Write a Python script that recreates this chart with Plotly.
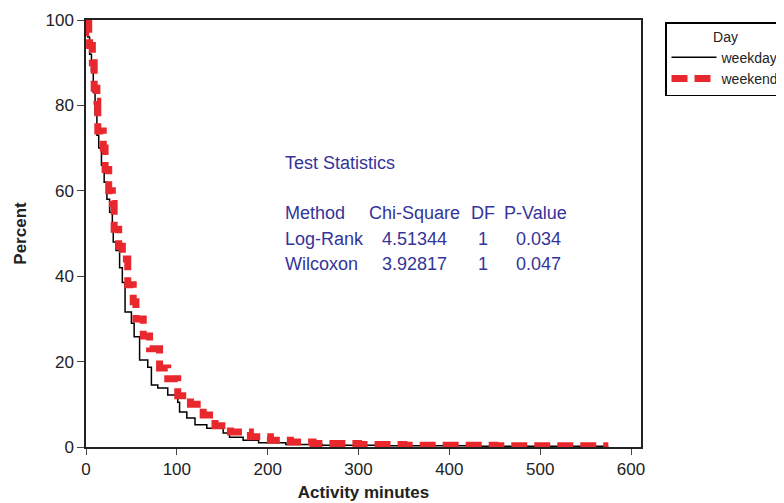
import plotly.graph_objects as go

# Kaplan-Meier style step data
weekday_time = [0, 2, 4, 6, 8, 10, 12, 14, 17, 20, 23, 26, 29, 30, 33, 37, 40, 43, 50, 53, 59, 68, 72, 79,
                90, 101, 103, 111, 120, 133, 151, 158, 173, 190, 220, 260, 330, 420, 575]
weekday_pct = [100, 96, 92, 88, 83, 78, 73, 70, 66, 62, 58, 55, 51, 48, 46, 42, 38.5, 31.6, 29, 25.8, 20.4,
               18.7, 14.5, 13.8, 12.2, 10.5, 8.2, 6.8, 5.2, 4.4, 3.3, 2.3, 1.6, 1.0, 0.6, 0.4, 0.3, 0.2, 0.2]

weekend_time = [0, 3, 4, 7, 9, 12, 13, 19, 21, 25, 29, 31, 36, 40, 46, 52, 55, 63, 70, 81, 90, 101, 115,
                129, 142, 159, 181, 203, 225, 250, 300, 350, 450, 575]
weekend_pct = [100, 97, 94, 90, 84, 81, 74, 70, 65, 60, 57, 51, 47, 44, 38, 34, 30, 26, 23, 18.5, 16, 12,
               10, 7.5, 5, 3.5, 2.4, 1.6, 1.2, 0.8, 0.6, 0.4, 0.3, 0.3]

x_ticks = [0, 100, 200, 300, 400, 500, 600]
y_ticks = [0, 20, 40, 60, 80, 100]

stats_header = ["Method", "Chi-Square", "DF", "P-Value"]
stats_rows = [["Log-Rank", "4.51344", "1", "0.034"],
              ["Wilcoxon", "3.92817", "1", "0.047"]]

FONT = "Liberation Sans, Arial, sans-serif"
NAVY = "#34349a"
RED = "#e8282c"

fig = go.Figure()
fig.add_trace(go.Scatter(x=weekday_time, y=weekday_pct, mode="lines", name="weekday",
                         line=dict(color="black", width=1.5, shape="hv")))
fig.add_trace(go.Scatter(x=weekend_time, y=weekend_pct, mode="lines", name="weekend",
                         line=dict(color=RED, width=7, shape="hv", dash="16px,7px")))

# plot area in page pixels: left 86, right 641, top 20, bottom 447 (page has an 8px offset)
OFF = 8
L, R, T, B = 86, 641, 20, 447
def px(x):
    return (x - L) / (R - L)
def py(y):
    return (B - y) / (B - T)

ann = []
ann.append(dict(x=px(283), y=py(163), text="Test Statistics"))
col_x = [283, 367, 469, 502]
row_y = [213, 239, 264]
for i, h in enumerate(stats_header):
    ann.append(dict(x=px(col_x[i]), y=py(row_y[0]), text=h))
val_x = [283, 380, 476, 514]
for r, row in enumerate(stats_rows):
    for i, v in enumerate(row):
        ann.append(dict(x=px(val_x[i]), y=py(row_y[r + 1]), text=v))
for a in ann:
    a.update(xref="paper", yref="paper", xanchor="left", yanchor="middle", showarrow=False,
             font=dict(family=FONT, size=18, color=NAVY))

fig.update_layout(
    width=784, height=503,
    margin=dict(l=L - OFF, r=784 - R + OFF, t=T - OFF, b=503 - B + OFF, autoexpand=False),
    paper_bgcolor="white", plot_bgcolor="white",
    font=dict(family=FONT, size=17, color="#222"),
    annotations=ann,
    showlegend=True,
    legend=dict(x=px(665), y=py(22), xanchor="left", yanchor="top",
                bordercolor="black", borderwidth=1.5, bgcolor="white",
                font=dict(family=FONT, size=14, color="#222"),
                title=dict(text="Day", side="top center", font=dict(family=FONT, size=14, color="#222")),
                itemwidth=45, tracegroupgap=0),
    xaxis=dict(range=[0, 611], tickvals=x_ticks, ticks="outside", ticklen=6, tickwidth=1.2,
               showline=True, linecolor="#222", linewidth=1.5, mirror=True, showgrid=False, zeroline=False,
               automargin=False,
               title=dict(text="<b>Activity minutes</b>", font=dict(family=FONT, size=17), standoff=8),
               tickfont=dict(size=17)),
    yaxis=dict(range=[0, 100], tickvals=y_ticks, ticks="outside", ticklen=7, tickwidth=1.2,
               showline=True, linecolor="#222", linewidth=1.5, mirror=True, showgrid=False, zeroline=False,
               automargin=False,
               title=dict(text="<b>Percent</b>", font=dict(family=FONT, size=17)),
               tickfont=dict(size=17)),
)

fig.write_html("out.html")
